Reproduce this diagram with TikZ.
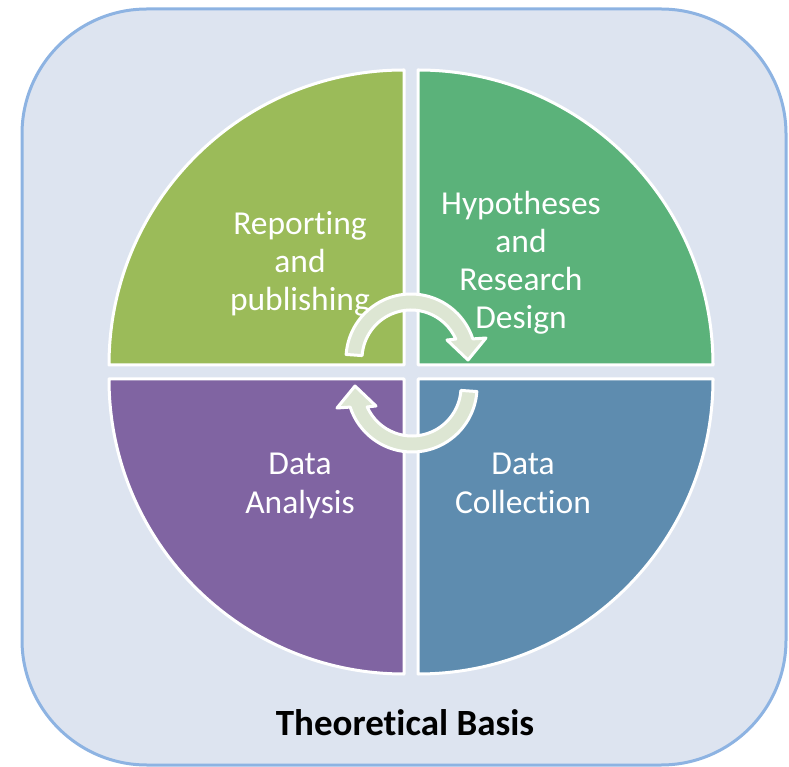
\documentclass[tikz,border=0pt]{standalone}
\usepackage{fontspec}
\setmainfont{Carlito}[Ligatures=CommonOff]
\definecolor{framefill}{HTML}{DDE4F0}
\definecolor{frameblue}{HTML}{8DB3E2}
\definecolor{reportgreen}{HTML}{9BBB59}
\definecolor{designgreen}{HTML}{5BB27A}
\definecolor{analysispurple}{HTML}{8064A2}
\definecolor{collectblue}{HTML}{5E8CAF}
\definecolor{turnfill}{HTML}{DDE6D3}
\begin{document}
\begin{tikzpicture}[x=1pt,y=1pt,line join=round]
    \tikzset{panel/.style={draw=white, line width=3pt}}
    \tikzset{turnarrow/.style={fill=turnfill, draw=white, line width=3pt}}
    \tikzset{phasetext/.style={text=white, align=center, inner sep=0pt, anchor=base, font=\fontsize{33.5}{38}\selectfont}}
    \useasboundingbox (0,0) rectangle (789,766);
    \draw[draw=frameblue, fill=framefill, line width=3pt, rounded corners=125pt] (22,1) rectangle (786,757);
    % the four phases
    \filldraw[panel, fill=reportgreen] (404,401) -- (109,401) arc[start angle=180, end angle=90, radius=295] -- cycle;
    \filldraw[panel, fill=designgreen] (418,401) -- (418,696) arc[start angle=90, end angle=0, radius=295] -- cycle;
    \filldraw[panel, fill=collectblue] (418,387) -- (713,387) arc[start angle=0, end angle=-90, radius=295] -- cycle;
    \filldraw[panel, fill=analysispurple] (404,387) -- (404,92) arc[start angle=270, end angle=180, radius=295] -- cycle;
    \node[phasetext] (report) at (300,455) {Reporting\\and\\publishing};
    \node[phasetext] (hypo) at (521,437) {Hypotheses\\and\\Research\\Design};
    \node[phasetext] (analysis) at (300,253) {Data\\Analysis};
    \node[phasetext] (collect) at (523,253) {Data\\Collection};
    \node[anchor=base, inner sep=0pt, font=\fontsize{37}{40}\selectfont\bfseries] (basis) at (405,31) {Theoretical Basis};
    % circular arrows
    \begin{scope}[shift={(411,407)}]
        \draw[turnarrow] (176:65) arc[start angle=176, end angle=18, radius=65] -- (75,21) -- (57,-1) -- (36,19) -- (24:49) arc[start angle=24, end angle=176, radius=49] -- cycle;
    \end{scope}
    \begin{scope}[shift={(412,379)}, rotate=180]
        \draw[turnarrow] (176:65) arc[start angle=176, end angle=18, radius=65] -- (75,21) -- (57,-1) -- (36,19) -- (24:49) arc[start angle=24, end angle=176, radius=49] -- cycle;
    \end{scope}
\end{tikzpicture}
\end{document}
